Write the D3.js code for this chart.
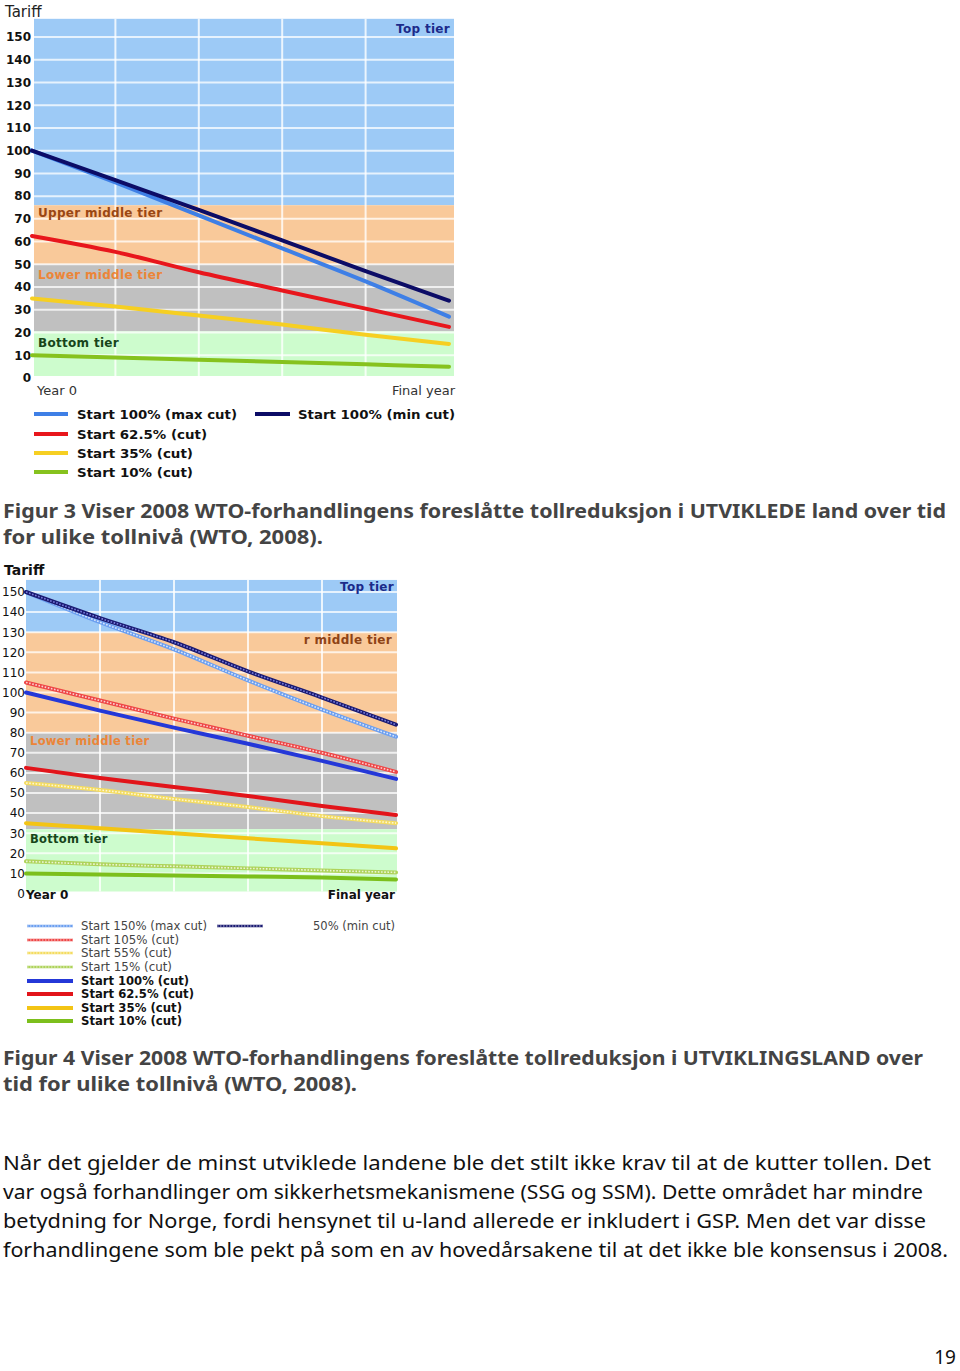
<!DOCTYPE html>
<html><head><meta charset="utf-8">
<script src="https://cdn.jsdelivr.net/npm/d3@7"></script>
<style>body{margin:0;background:#fff}svg{display:block}</style>
</head><body>
<script>
// ---------- DATA ----------
const years = [0, 1, 2, 3, 4, 5];
const tickValues = [0,10,20,30,40,50,60,70,80,90,100,110,120,130,140,150];
const xLabels = ["Year 0", "Final year"];

// Figure 3 (developed countries)
const f3Names = ["Start 100% (max cut)", "Start 100% (min cut)", "Start 62.5% (cut)", "Start 35% (cut)", "Start 10% (cut)"];
const f3MaxCut100 = [100, 86, 71.5, 57, 42.5, 27];
const f3MinCut100 = [100, 87, 74, 60.5, 47, 34];
const f3Cut62 = [62.5, 55.5, 46.5, 38.5, 30.5, 22.5];
const f3Cut35 = [35, 31.5, 27.5, 23.5, 19, 15];
const f3Cut10 = [10, 9, 8, 7, 6, 5];
const f3Tiers = ["Top tier", "Upper middle tier", "Lower middle tier", "Bottom tier"];
const f3TierBounds = [158, 76, 50, 20.5, 0];

// Figure 4 (developing countries)
const f4Names = ["Start 150% (max cut)", "50% (min cut)", "Start 105% (cut)", "Start 55% (cut)", "Start 15% (cut)",
                 "Start 100% (cut)", "Start 62.5% (cut)", "Start 35% (cut)", "Start 10% (cut)"];
const f4MaxCut150 = [150, 135, 121.5, 106, 91.5, 78];
const f4MinCut150 = [150, 137, 125, 110.5, 97.5, 84];
const f4Cut105 = [105, 96, 87, 78.5, 70, 60.5];
const f4Cut55 = [55, 51.5, 47, 43, 38.5, 35];
const f4Cut15 = [16, 14.5, 13.5, 12.5, 11.5, 10.5];
const f4Cut100 = [100, 91, 82.5, 74.5, 66, 57];
const f4Cut62 = [62.5, 57.5, 53, 48.5, 43.5, 39];
const f4Cut35 = [35, 32.5, 30, 27.5, 25, 22.5];
const f4Cut10 = [10, 9.5, 9, 8.5, 8, 7];
const f4Tiers = ["Top tier", "r middle tier", "Lower middle tier", "Bottom tier"];
const f4TierBounds = [156, 130, 80, 32, 0];

const caption3 = ["Figur 3 Viser 2008 WTO-forhandlingens foreslåtte tollreduksjon i UTVIKLEDE land over tid", "for ulike tollnivå (WTO, 2008)."];
const caption4 = ["Figur 4 Viser 2008 WTO-forhandlingens foreslåtte tollreduksjon i UTVIKLINGSLAND over", "tid for ulike tollnivå (WTO, 2008)."];
const paragraph = [
  "Når det gjelder de minst utviklede landene ble det stilt ikke krav til at de kutter tollen. Det",
  "var også forhandlinger om sikkerhetsmekanismene (SSG og SSM). Dette området har mindre",
  "betydning for Norge, fordi hensynet til u-land allerede er inkludert i GSP. Men det var disse",
  "forhandlingene som ble pekt på som en av hovedårsakene til at det ikke ble konsensus i 2008."
];
const pageNumber = "19";

// ---------- DRAW ----------
const W = 960, H = 1371;
const svg = d3.select("body").append("svg").attr("width", W).attr("height", H);
svg.append("rect").attr("width", W).attr("height", H).attr("fill", "#fff");
const F = "'DejaVu Sans', Verdana, sans-serif";
const tierFill = ["#9dcaf6", "#f9c99a", "#c0c0c0", "#cdfccd"];

function chart(o) {
  const g = svg.append("g");
  const x = d3.scaleLinear().domain([0, 5]).range(o.xr);
  const y = d3.scaleLinear().domain([0, 150]).range(o.yr);
  const plotBottom = y(0) - 2;
  for (let i = 0; i < 4; i++) {
    const top = y(o.bounds[i]), bot = i === 3 ? plotBottom : y(o.bounds[i + 1]);
    g.append("rect").attr("x", o.px[0]).attr("y", top).attr("width", o.px[1] - o.px[0])
      .attr("height", bot - top).attr("fill", tierFill[i]);
  }
  g.selectAll(".hg").data(tickValues.filter(v => v > 0)).join("line")
    .attr("x1", o.px[0]).attr("x2", o.px[1]).attr("y1", d => y(d)).attr("y2", d => y(d))
    .attr("stroke", "#fff").attr("stroke-opacity", 0.75).attr("stroke-width", 2);
  g.selectAll(".vg").data([1, 2, 3, 4]).join("line")
    .attr("x1", d => x(d)).attr("x2", d => x(d)).attr("y1", y(o.bounds[0])).attr("y2", plotBottom)
    .attr("stroke", "#fff").attr("stroke-opacity", 0.8).attr("stroke-width", 2);
  const ax = g.append("g").attr("transform", `translate(${o.tickX},0)`)
    .call(d3.axisLeft(y).tickValues(tickValues).tickSize(0).tickPadding(0));
  ax.select(".domain").remove();
  ax.selectAll("text").attr("font-family", F).attr("font-size", o.tickSize)
    .attr("font-weight", o.tickWeight).attr("fill", "#111");
  o.tierLabels.forEach(t => {
    g.append("text").attr("x", t.x).attr("y", y(t.v)).attr("dy", "0.35em")
      .attr("text-anchor", t.anchor || "start").attr("font-family", F).attr("font-size", t.size)
      .attr("font-weight", "bold").attr("fill", t.color).attr("letter-spacing", 0.3).text(t.text);
  });
  const line = d3.line().x((d, i) => x(years[i])).y(d => y(d)).curve(d3.curveMonotoneX);
  o.series.forEach(s => {
    g.append("path").attr("d", line(s.data)).attr("fill", "none").attr("stroke", s.color)
      .attr("stroke-width", s.w || 4).attr("stroke-linecap", "round");
    if (s.dotted) {
      g.append("path").attr("d", line(s.data)).attr("fill", "none").attr("stroke", s.dot || "#fff")
        .attr("stroke-width", 1.6).attr("stroke-dasharray", "1.6,1.6").attr("stroke-opacity", 0.75);
    }
  });
  g.append("text").attr("x", o.titleX).attr("y", o.titleY).attr("font-family", F)
    .attr("font-size", o.titleSize).attr("font-weight", o.titleWeight).attr("fill", o.titleColor).text("Tariff");
  g.append("text").attr("x", o.xlab[0]).attr("y", o.xlabY).attr("font-family", F).attr("font-size", o.xlabSize)
    .attr("font-weight", o.xlabWeight).attr("fill", o.xlabColor).text(xLabels[0]);
  g.append("text").attr("x", o.xlab[1]).attr("y", o.xlabY).attr("text-anchor", "end").attr("font-family", F)
    .attr("font-size", o.xlabSize).attr("font-weight", o.xlabWeight).attr("fill", o.xlabColor).text(xLabels[1]);
  o.legend.forEach(l => {
    g.append("line").attr("x1", l.x).attr("x2", l.x + l.len).attr("y1", l.y).attr("y2", l.y)
      .attr("stroke", l.color).attr("stroke-width", l.dotted ? 2.5 : 4);
    if (l.dotted) g.append("line").attr("x1", l.x).attr("x2", l.x + l.len).attr("y1", l.y).attr("y2", l.y)
      .attr("stroke", "#fff").attr("stroke-width", 1.2).attr("stroke-dasharray", "1.5,1.5").attr("stroke-opacity", 0.7);
    g.append("text").attr("x", l.tx).attr("y", l.y).attr("dy", "0.35em").attr("font-family", F)
      .attr("font-size", l.size).attr("font-weight", l.bold ? "bold" : "normal").attr("fill", l.bold ? "#111" : "#444")
      .attr("textLength", l.tl).attr("lengthAdjust", "spacingAndGlyphs").text(l.text);
  });
}

// Figure 3
const c3 = {blue: "#3e7fe6", navy: "#0c0c66", red: "#e8161c", yellow: "#f6cf22", green: "#86c21e"};
chart({
  xr: [32, 449], yr: [378, 37], px: [34, 454], bounds: f3TierBounds, tickX: 31, tickSize: 12, tickWeight: "bold",
  tierLabels: [
    {text: f3Tiers[0], x: 450, v: 153.5, anchor: "end", size: 12, color: "#1b2a8a"},
    {text: f3Tiers[1], x: 38, v: 72.5, size: 12, color: "#9a4713"},
    {text: f3Tiers[2], x: 38, v: 45.5, size: 12, color: "#ec8538"},
    {text: f3Tiers[3], x: 38, v: 15.5, size: 12, color: "#17451a"}
  ],
  series: [
    {data: f3MaxCut100, color: c3.blue},
    {data: f3MinCut100, color: c3.navy},
    {data: f3Cut62, color: c3.red},
    {data: f3Cut35, color: c3.yellow},
    {data: f3Cut10, color: c3.green}
  ],
  titleX: 5, titleY: 17, titleSize: 15, titleWeight: "normal", titleColor: "#222",
  xlab: [37, 455], xlabY: 395, xlabSize: 13, xlabWeight: "normal", xlabColor: "#333",
  legend: [
    {text: f3Names[0], x: 34, len: 34, y: 414, tx: 77, color: c3.blue, size: 13, bold: true, tl: 160},
    {text: f3Names[1], x: 255, len: 35, y: 414, tx: 298, color: c3.navy, size: 13, bold: true, tl: 157},
    {text: f3Names[2], x: 34, len: 34, y: 434, tx: 77, color: c3.red, size: 13, bold: true, tl: 130},
    {text: f3Names[3], x: 34, len: 34, y: 453, tx: 77, color: c3.yellow, size: 13, bold: true, tl: 116},
    {text: f3Names[4], x: 34, len: 34, y: 472, tx: 77, color: c3.green, size: 13, bold: true, tl: 116}
  ]
});

// Figure 4
const c4 = {dblue: "#6c9ff0", dnavy: "#1a1a72", dred: "#ee4646", dyellow: "#f4dc60", dgreen: "#aed35a",
            blue: "#2438d8", red: "#e2141a", yellow: "#f3c414", green: "#7cbf1c"};
chart({
  xr: [26, 396], yr: [893.5, 592], px: [26, 397], bounds: f4TierBounds, tickX: 25, tickSize: 12, tickWeight: "normal",
  tierLabels: [
    {text: f4Tiers[0], x: 394, v: 152.5, anchor: "end", size: 12, color: "#1b2a8a"},
    {text: f4Tiers[1], x: 392, v: 126, anchor: "end", size: 12, color: "#8e4316"},
    {text: f4Tiers[2], x: 30, v: 76, size: 11.5, color: "#ec8538"},
    {text: f4Tiers[3], x: 30, v: 27, size: 11.5, color: "#17451a"}
  ],
  series: [
    {data: f4MaxCut150, color: c4.dblue, dotted: true},
    {data: f4MinCut150, color: c4.dnavy, dotted: true, dot: "#9aa0ff"},
    {data: f4Cut105, color: c4.dred, dotted: true},
    {data: f4Cut55, color: c4.dyellow, dotted: true},
    {data: f4Cut15, color: c4.dgreen, dotted: true},
    {data: f4Cut100, color: c4.blue},
    {data: f4Cut62, color: c4.red},
    {data: f4Cut35, color: c4.yellow},
    {data: f4Cut10, color: c4.green}
  ],
  titleX: 4, titleY: 575, titleSize: 14, titleWeight: "bold", titleColor: "#111",
  xlab: [26, 395], xlabY: 899, xlabSize: 12, xlabWeight: "bold", xlabColor: "#111",
  legend: [
    {text: f4Names[0], x: 27, len: 46, y: 926, tx: 81, color: c4.dblue, dotted: true, size: 11.5, tl: 126},
    {text: f4Names[1], x: 217, len: 46, y: 926, tx: 313, color: c4.dnavy, dotted: true, size: 11.5, tl: 82},
    {text: f4Names[2], x: 27, len: 46, y: 940, tx: 81, color: c4.dred, dotted: true, size: 11.5, tl: 98},
    {text: f4Names[3], x: 27, len: 46, y: 953, tx: 81, color: c4.dyellow, dotted: true, size: 11.5, tl: 91},
    {text: f4Names[4], x: 27, len: 46, y: 967, tx: 81, color: c4.dgreen, dotted: true, size: 11.5, tl: 91},
    {text: f4Names[5], x: 27, len: 46, y: 981, tx: 81, color: c4.blue, size: 12, bold: true, tl: 108},
    {text: f4Names[6], x: 27, len: 46, y: 994, tx: 81, color: c4.red, size: 12, bold: true, tl: 113},
    {text: f4Names[7], x: 27, len: 46, y: 1008, tx: 81, color: c4.yellow, size: 12, bold: true, tl: 101},
    {text: f4Names[8], x: 27, len: 46, y: 1021, tx: 81, color: c4.green, size: 12, bold: true, tl: 101}
  ]
});

// Captions and body text
const TF = "'Noto Sans', 'DejaVu Sans', sans-serif";
function textLine(t, xx, yy, len, size, weight, color) {
  svg.append("text").attr("x", xx).attr("y", yy).attr("font-family", TF).attr("font-size", size)
    .attr("font-weight", weight).attr("fill", color).attr("textLength", len)
    .attr("lengthAdjust", "spacingAndGlyphs").text(t);
}
textLine(caption3[0], 3, 518, 943, 20, "bold", "#444");
textLine(caption3[1], 3, 544, 320, 20, "bold", "#444");
textLine(caption4[0], 3, 1065, 920, 20, "bold", "#444");
textLine(caption4[1], 3, 1091, 354, 20, "bold", "#444");
const paraLens = [928, 920, 923, 945];
paragraph.forEach((p, i) => textLine(p, 3, 1170 + i * 29, paraLens[i], 20, "normal", "#111"));
svg.append("text").attr("x", 956).attr("y", 1364).attr("text-anchor", "end").attr("font-family", TF)
  .attr("font-size", 19).attr("fill", "#111").text(pageNumber);
</script>
</body></html>
